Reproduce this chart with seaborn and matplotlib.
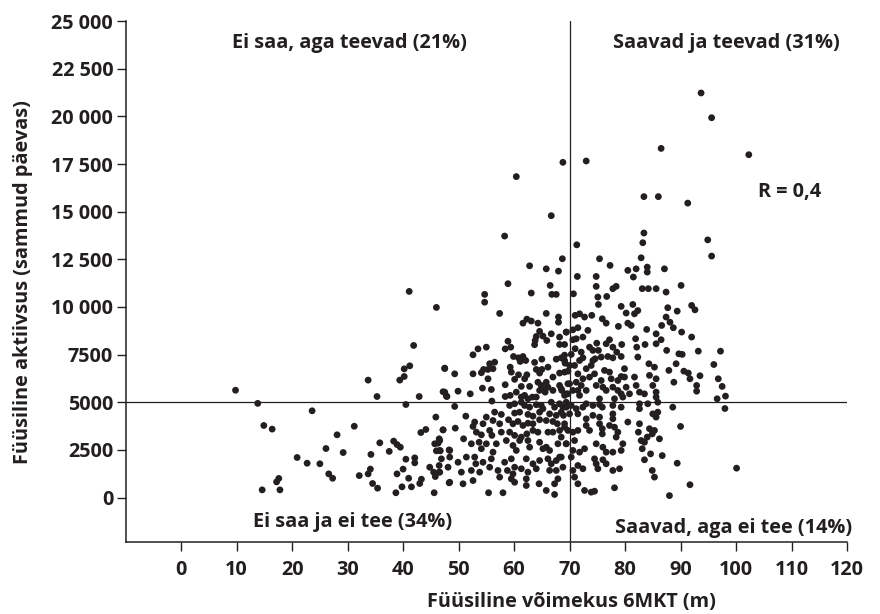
import numpy as np
import pandas as pd
import matplotlib
matplotlib.use("Agg")
import matplotlib.pyplot as plt
import seaborn as sns

# Data: 6-minute walk test (m) vs steps per day
# each line of x matches the same line of y
x_6mkt = [
    9.8, 13.8, 23.6, 14.9, 16.4, 26.1, 20.9, 22.7, 25.0, 26.6, 17.6, 17.2, 14.6, 17.8,
    41.1, 46.0, 41.9, 40.2, 41.2, 33.7, 39.4, 40.2, 47.5, 35.3, 42.9, 47.2, 47.8, 40.5,
    45.9, 31.2, 43.2, 44.1, 28.1, 47.2, 46.5, 45.7, 46.3, 35.8, 38.3, 38.9, 39.5, 29.2,
    34.2, 37.5, 46.0, 46.7, 48.3, 40.5, 42.1, 42.1, 34.1, 33.7, 32.1, 27.3, 40.0, 38.9,
    44.8, 45.5, 46.5, 45.8, 46.5, 41.0, 43.3, 43.0, 34.5, 35.4, 39.8, 41.5, 38.7, 45.6, 48.3,
    # upper middle
    68.7, 62.8, 65.8, 68.0, 58.9, 66.5, 54.7, 54.7, 63.1, 66.8, 67.6, 57.4, 65.8, 68.0,
    68.0, 61.6, 62.3, 63.1, 64.3, 69.4, 64.6, 64.0, 63.8, 65.2, 65.9, 66.7, 68.2, 68.2,
    69.1, 58.9, 59.4, 58.4, 53.5, 55.0, 52.6, 63.7, 59.9, 60.8, 61.6, 62.1, 61.1, 55.6,
    56.5, 56.2, 55.3, 54.5, 54.1, 63.7, 65.0, 66.1, 65.0, 64.0, 67.6, 68.5, 69.1, 69.2,
    47.5, 49.3, 52.6, 59.3, 59.5, 60.8, 60.1, 55.3, 62.3, 61.9, 64.6, 67.0, 68.2, 69.7,
    64.3, 64.9, 65.8, 66.1, 65.2, 64.6, 65.6, 67.0,
    47.5, 47.9, 49.9, 52.1, 54.3, 55.9, 58.4, 59.3, 58.4,
    60.4, 61.3, 62.8, 61.9, 61.3, 62.5, 63.3, 64.0,
    68.2, 69.7, 68.6, 69.1, 69.7, 56.0,
    # lower middle
    49.3, 59.2, 60.1, 61.3, 61.9, 62.8, 64.0, 64.9, 65.2, 66.7, 67.3, 68.2, 69.4, 69.4,
    56.5, 57.7, 60.1, 61.0, 62.5, 63.4, 64.6, 66.4, 67.6, 68.5,
    51.3, 55.0, 52.9, 54.4, 56.2, 57.4, 59.0,
    59.8, 60.7, 61.6, 62.5, 63.4, 64.6, 65.8, 67.0, 67.8, 69.1,
    47.2, 49.4, 52.6, 53.2, 54.1, 55.6, 56.0, 57.7,
    59.2, 60.1, 61.3, 62.3, 63.4, 64.3, 66.1, 67.0, 68.2, 69.7,
    46.6, 46.6, 48.4, 50.9, 52.3, 53.7, 54.1, 55.0, 56.2, 56.8, 58.6, 59.8, 60.4, 61.0,
    62.5, 62.8, 64.6, 65.2, 65.8, 66.4, 67.9, 69.4,
    46.9, 48.4, 49.9, 51.4, 52.9, 53.1, 54.4, 55.9, 58.3, 59.5, 60.1, 62.2, 63.4, 64.6,
    66.1, 66.7, 67.6, 68.5,
    46.6, 48.1, 50.5, 52.3, 53.8, 55.6, 57.1, 58.8, 59.8, 61.3, 62.5, 64.0, 66.4, 67.6, 68.8,
    48.4, 50.8, 52.6, 57.4, 59.5, 60.1, 62.2, 62.2, 64.5, 67.9, 67.3,
    55.4, 58.0, 65.8, 67.3,
    # upper right
    75.4, 82.9, 77.3, 80.5, 82.0, 84.0, 84.0, 87.1, 81.5, 74.8, 71.4,
    74.8, 77.8, 78.4, 83.1, 84.2, 85.6, 90.1, 70.7, 75.1, 76.7, 87.4, 75.2,
    79.3, 81.4, 82.3, 81.7, 80.2, 87.7, 89.4, 87.4,
    71.0, 71.8, 72.7, 74.0, 75.9, 76.6,
    78.8, 80.5, 81.1, 83.9, 86.6, 88.1, 88.7, 90.2,
    70.6, 71.5, 73.3, 69.4, 72.4, 71.2,
    74.9, 76.6, 77.2, 79.4, 81.9, 83.6, 85.6, 85.6, 86.5, 87.5, 89.7, 90.3,
    70.6, 71.0, 70.3, 72.1, 72.4, 73.6, 74.2, 75.2, 75.7,
    77.8, 78.5, 79.3, 77.8, 76.9, 82.1, 82.3, 84.3, 85.3, 87.9, 89.2,
    69.1, 70.0, 70.9, 71.8, 73.0, 73.9, 74.2, 74.6, 69.1, 71.5,
    72.4, 73.6, 74.5, 76.3, 77.2, 79.9, 79.9, 81.7, 79.3, 77.5, 78.7,
    84.4, 85.6, 85.0, 85.6, 88.8,
    70.0, 71.2, 72.1, 71.5, 71.8, 73.0, 74.8, 76.0, 75.7, 76.6, 77.8, 78.7, 80.2, 80.8,
    82.0, 82.6, 83.5, 69.4, 70.6, 68.5,
    # lower right
    75.4, 78.1, 79.3, 79.6, 85.6, 82.6, 84.1, 85.9, 88.6, 90.0,
    70.3, 71.2, 72.4, 73.0, 74.2, 75.4, 75.9, 77.8, 79.3, 82.6, 85.0, 85.9,
    68.8, 68.9, 70.0, 71.5, 73.0, 74.2, 75.4, 77.8, 77.8, 80.5, 82.6, 84.4, 85.3, 85.6, 86.2,
    69.1, 70.6, 71.5, 73.0, 73.6, 75.4, 75.9, 75.9, 77.2, 78.1, 78.7, 78.4,
    82.4, 82.9, 83.5, 84.0, 84.9,
    68.5, 69.4, 70.9, 70.6, 71.8, 72.7, 74.8, 76.0, 76.6, 77.8, 79.3, 79.6, 83.1, 84.6,
    86.7, 89.4,
    68.2, 70.3, 71.5, 70.6, 72.4, 74.5, 74.8, 76.0, 76.6, 75.1, 77.8, 79.0, 83.5, 84.9, 85.3,
    70.9, 71.5, 72.7, 73.9, 74.5, 78.1, 88.0,
    # far right
    95.6, 92.0, 92.6, 92.0, 93.2, 97.2, 96.0, 90.6, 91.4, 91.7, 93.5,
    96.8, 97.5, 92.9, 92.9, 98.1, 96.6, 98.0, 100.1, 91.7,
    # top
    93.7, 95.6, 86.5, 102.3, 68.8, 73.0, 60.4, 83.4, 86.0, 91.3, 66.7, 58.3, 83.4, 83.2,
    94.9, 71.3,
]

y_sammud = [
    5630, 4940, 4550, 3780, 3590, 2570, 2100, 1800, 1770, 1240, 1000, 820, 400, 400,
    10815, 9975, 7980, 6750, 6910, 6160, 6160, 6350, 6770, 5300, 5300, 5550, 5320, 4880,
    4220, 3740, 3410, 3570, 3290, 3550, 3080, 2820, 2850, 2870, 2960, 2780, 2640, 2360,
    2260, 2420, 2450, 2450, 2500, 2010, 2080, 1820, 1490, 1240, 1150, 1010, 1490, 1240,
    1590, 1330, 1330, 1100, 1680, 1010, 960, 735, 735, 490, 560, 560, 250, 250, 770,
    # upper middle
    12530, 12160, 12000, 11880, 11220, 11130, 10660, 10250, 10730, 10660, 10660, 9660, 9660, 9470,
    9200, 9150, 9360, 9260, 9150, 8680, 8720, 8450, 8240, 8470, 8240, 8590, 8420, 8030,
    8030, 8200, 7890, 7800, 7800, 7890, 7490, 8020, 7400, 7330, 7400, 7190, 7140, 7020,
    7100, 6760, 6720, 6720, 6550, 7090, 7260, 6840, 6720, 6720, 7260, 7330, 7470, 7050,
    6790, 6490, 6490, 6840, 6580, 6440, 6200, 6230, 6440, 6230, 6530, 6320, 6530, 6630,
    6050, 5880, 6050, 5790, 5740, 5620, 5530, 5620,
    5530, 5300, 5580, 5440, 5740, 5670, 5920, 5360, 5300,
    5530, 5830, 5830, 5360, 5270, 5180, 5270, 5270,
    5880, 5970, 5620, 5360, 5440, 5060,
    # lower middle
    4780, 4830, 4920, 5000, 4830, 4740, 4870, 4830, 4660, 5000, 4740, 4920, 5000, 4740,
    4480, 4360, 4430, 4480, 4360, 4270, 4480, 4390, 4310, 4480,
    4270, 4220, 3960, 3870, 4040, 3870, 4080,
    3870, 3990, 3780, 3900, 3870, 4080, 4040, 3990, 3870, 3870,
    3550, 3640, 3730, 3430, 3290, 3520, 3260, 3430,
    3430, 3260, 3170, 3340, 3520, 3430, 3430, 3430, 3520, 3520,
    2990, 2470, 2470, 3080, 2820, 2900, 2560, 2820, 2380, 2820, 2990, 2730, 2470, 2990,
    2990, 2640, 2900, 2560, 2640, 2470, 2820, 2820,
    2030, 2120, 1850, 2120, 2120, 1770, 1850, 2030, 1850, 2030, 1590, 2030, 1770, 1940,
    2030, 1770, 1940, 2120,
    1330, 1590, 1330, 1420, 1330, 1590, 1420, 1420, 1240, 1510, 1330, 1510, 1420, 1420, 1590,
    800, 720, 890, 1070, 980, 800, 980, 630, 720, 980, 720,
    250, 250, 370, 160,
    # upper right
    12530, 12580, 12180, 11920, 12000, 12090, 11830, 12000, 11570, 11600, 11600,
    11080, 10960, 11080, 10960, 10960, 10960, 11130, 10690, 10520, 10550, 10780, 10130,
    10030, 10130, 9810, 9640, 9680, 9960, 9780, 9470,
    9560, 9640, 9470, 9560, 9380, 9150,
    8980, 9150, 9030, 8820, 9030, 9200, 8910, 8680,
    8800, 8910, 8770, 8680, 8420, 8330,
    8100, 8070, 8280, 8030, 8330, 8030, 8590, 8070, 8280, 7720, 7540, 7510,
    8280, 7810, 7510, 7630, 7330, 7890, 7720, 7720, 7370,
    7890, 7630, 7400, 7330, 7400, 7890, 7370, 7020, 6840, 6670, 7020,
    7190, 6930, 6930, 7190, 6760, 6930, 7190, 7280, 6580, 6490,
    6230, 6320, 6490, 6670, 6580, 6760, 6320, 6320, 6350, 6230, 6140,
    6410, 6230, 5880, 5530, 6050,
    5970, 6050, 5880, 5620, 5360, 5620, 5880, 5790, 6140, 5620, 5790, 5620, 5790, 5440,
    5880, 5530, 5440, 5440, 5620, 5710,
    # lower right
    5180, 5180, 5440, 5270, 5270, 4920, 4920, 5000, 4740, 3730,
    4830, 4660, 4740, 4920, 4830, 4880, 4740, 4830, 4740, 4660, 4390, 4480,
    4740, 4310, 4390, 4390, 4130, 4310, 4220, 4390, 4130, 3960, 3870, 3610, 3520, 4220, 3080,
    3690, 3430, 3520, 3780, 3520, 3870, 3610, 3340, 3780, 3690, 3430, 3170,
    3430, 2990, 2900, 3170, 3340,
    3170, 2820, 2990, 2470, 2380, 2560, 2820, 2640, 2380, 2380, 2470, 2820, 2560, 2290,
    2200, 1800,
    2120, 2120, 1680, 1420, 1510, 2030, 1770, 1980, 1770, 1510, 1420, 1510, 1980, 1420, 1070,
    1070, 720, 370, 280, 330, 510, 100,
    # far right
    12670, 10080, 9850, 8420, 7680, 7680, 6980, 6630, 6530, 6230, 6390,
    6230, 5830, 5880, 5580, 5320, 5180, 4670, 1540, 670,
    # top
    21230, 19930, 18320, 17990, 17590, 17660, 16840, 15790, 15790, 15450, 14790, 13720, 13880, 13370,
    13520, 13260,
]

y_ticks = [0, 2500, 5000, 7500, 10000, 12500, 15000, 17500, 20000, 22500, 25000]
y_ticklabels = ["0", "2500", "5000", "7500", "10 000", "12 500", "15 000",
                "17 500", "20 000", "22 500", "25 000"]
x_ticks = list(range(0, 121, 10))

quadrant_labels = ["Ei saa, aga teevad (21%)", "Saavad ja teevad (31%)",
                   "Ei saa ja ei tee (34%)", "Saavad, aga ei tee (14%)"]

df = pd.DataFrame({"x": x_6mkt, "y": y_sammud})

ink = "#231f20"
fs = 14.3

sns.set_style("ticks")
plt.rcParams["font.family"] = ["Open Sans", "DejaVu Sans"]
plt.rcParams["font.weight"] = "bold"

fig = plt.figure(figsize=(8.8, 6.14), dpi=100)
ax = fig.add_axes([0.1428, 0.1168, 0.8197, 0.8488])

# quadrant lines
ax.axhline(5000, color=ink, lw=0.9, zorder=1)
ax.axvline(70, color=ink, lw=0.9, zorder=1)

sns.scatterplot(data=df, x="x", y="y", ax=ax, color=ink, s=24,
                edgecolor="none", linewidth=0, zorder=2)

ax.set_xlim(-10, 120)
ax.set_ylim(-2350, 25000)
ax.set_xticks(x_ticks)
ax.set_xticklabels([str(t) for t in x_ticks])
ax.set_yticks(y_ticks)
ax.set_yticklabels(y_ticklabels)
ax.tick_params(axis="both", length=6.5, width=1.0, color=ink, labelcolor=ink,
               labelsize=fs)
ax.tick_params(axis="x", pad=6)
ax.tick_params(axis="y", pad=2.5)
for lab in ax.get_xticklabels() + ax.get_yticklabels():
    lab.set_fontweight("bold")

sns.despine(ax=ax)
for side in ["left", "bottom"]:
    ax.spines[side].set_color(ink)
    ax.spines[side].set_linewidth(1.1)

ax.set_xlabel("")
ax.set_ylabel("")
fig.text(571 / 880, 1 - 602 / 614, "Füüsiline võimekus 6MKT (m)", ha="center",
         va="center", fontsize=fs, fontweight="bold", color=ink)
fig.text(23 / 880, 1 - 282 / 614, "Füüsiline aktiivsus (sammud päevas)", ha="center",
         va="center", rotation=90, fontsize=fs, fontweight="bold", color=ink)

txt = dict(fontsize=fs, fontweight="bold", color=ink, va="center")
ax.text(9.1, 23830, quadrant_labels[0], ha="left", **txt)
ax.text(77.8, 23830, quadrant_labels[1], ha="left", **txt)
ax.text(12.9, -1265, quadrant_labels[2], ha="left", **txt)
ax.text(120.9, -1610, quadrant_labels[3], ha="right", **txt)
ax.text(104.0, 16050, "R = 0,4", ha="left", **txt)

fig.savefig("out.png", dpi=100)
